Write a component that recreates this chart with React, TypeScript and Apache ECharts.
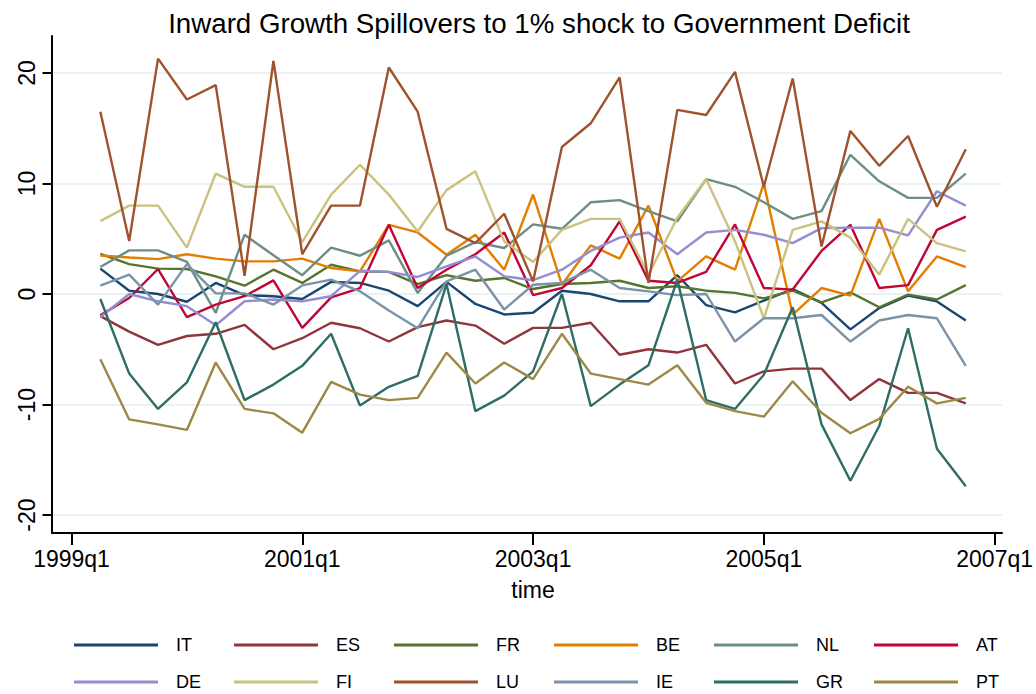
import React, { useEffect, useRef } from "react";
import * as echarts from "echarts";

const quarters = [
  "1999q2", "1999q3", "1999q4",
  "2000q1", "2000q2", "2000q3", "2000q4",
  "2001q1", "2001q2", "2001q3", "2001q4",
  "2002q1", "2002q2", "2002q3", "2002q4",
  "2003q1", "2003q2", "2003q3", "2003q4",
  "2004q1", "2004q2", "2004q3", "2004q4",
  "2005q1", "2005q2", "2005q3", "2005q4",
  "2006q1", "2006q2", "2006q3", "2006q4",
];

const countries = ["IT", "ES", "FR", "BE", "NL", "AT", "DE", "FI", "LU", "IE", "GR", "PT"];

const colors = [
  "#1a476f", "#90353b", "#55752f", "#e37e00", "#6e8e84", "#c10534",
  "#938dd2", "#cac27e", "#a0522d", "#7b92a8", "#2d6d66", "#9c8847",
];

const IT = [2.3, 0.3, 0, -0.7, 1.0, -0.1, -0.2, -0.45, 1.1, 1.0, 0.3, -1.1, 1.1, -0.9, -1.85, -1.7, 0.3, 0, -0.66, -0.66, 1.7, -1.0, -1.66, -0.6, 0.45, -0.8, -3.2, -1.27, -0.15, -0.67, -2.4];
const ES = [-2.0, -3.4, -4.6, -3.8, -3.6, -2.8, -5.0, -4.0, -2.6, -3.1, -4.3, -3.0, -2.4, -2.86, -4.5, -3.07, -3.07, -2.6, -5.5, -5.0, -5.3, -4.6, -8.1, -7.0, -6.75, -6.75, -9.6, -7.7, -8.95, -8.95, -9.9];
const FR = [3.64, 2.7, 2.3, 2.26, 1.6, 0.75, 2.2, 1.0, 2.65, 2.05, 2.0, 0.9, 1.7, 1.2, 1.45, 0.45, 0.9, 1.0, 1.2, 0.54, 0.7, 0.3, 0.1, -0.4, 0.3, -0.75, 0.15, -1.2, -0.06, -0.5, 0.8];
const BE = [3.49, 3.3, 3.16, 3.6, 3.2, 2.95, 2.95, 3.2, 2.35, 2.05, 6.26, 5.57, 3.55, 5.36, 2.2, 9.0, 0.84, 4.4, 3.2, 8.0, 1.14, 3.4, 2.2, 10.0, -1.87, 0.54, -0.15, 6.8, 0.24, 3.4, 2.44];
const NL = [2.44, 3.95, 3.95, 2.9, -1.7, 5.36, 3.5, 1.7, 4.2, 3.46, 4.85, 0.1, 3.46, 4.7, 4.16, 6.3, 5.9, 8.3, 8.5, 7.5, 6.57, 10.4, 9.7, 8.3, 6.8, 7.5, 12.6, 10.2, 8.7, 8.7, 10.9];
const AT = [-1.93, -0.36, 2.26, -2.1, -0.96, -0.2, 1.23, -3.07, -0.3, 0.54, 6.26, 0.54, 2.2, 3.6, 5.57, -0.1, 0.54, 2.6, 6.57, 1.2, 1.0, 2.0, 6.3, 0.54, 0.4, 3.9, 6.26, 0.54, 0.8, 5.8, 7.0];
const DE = [-2.1, 0, -0.66, -1.1, -2.83, -0.66, -0.5, -0.66, -0.2, 2.1, 2.0, 1.54, 2.5, 3.4, 1.6, 1.25, 2.2, 3.9, 5.1, 5.57, 3.6, 5.57, 5.8, 5.36, 4.6, 5.96, 6.0, 6.0, 5.3, 9.3, 8.0];
const FI = [6.6, 8.0, 8.0, 4.2, 10.9, 9.7, 9.7, 4.7, 9.0, 11.7, 9.0, 5.66, 9.4, 11.1, 4.76, 2.9, 5.8, 6.8, 6.8, 1.75, 6.9, 10.4, 4.76, -2.2, 5.8, 6.57, 5.1, 1.75, 6.8, 4.6, 3.86];
const LU = [16.5, 4.8, 21.3, 17.6, 18.9, 1.65, 21.1, 3.6, 8.0, 8.0, 20.5, 16.5, 5.9, 4.6, 7.26, 1.14, 13.3, 15.45, 19.6, 1.0, 16.66, 16.2, 20.1, 9.7, 19.5, 4.3, 14.76, 11.6, 14.3, 7.9, 13.1];
const IE = [0.75, 1.75, -0.96, 2.7, 0.06, 0.06, -0.96, 0.78, 1.3, 0.24, -1.5, -3.1, 1.14, 2.2, -1.4, 0.84, 1.0, 2.2, 0.54, 0.24, -0.1, 0, -4.3, -2.2, -2.2, -1.9, -4.3, -2.4, -1.9, -2.2, -6.5];
const GR = [-0.45, -7.2, -10.4, -8.0, -2.56, -9.6, -8.2, -6.5, -3.6, -10.1, -8.4, -7.4, 0.9, -10.6, -9.2, -7.0, 0, -10.15, -8.2, -6.45, 1.3, -9.6, -10.4, -7.3, -1.2, -11.8, -16.9, -11.95, -3.1, -14.0, -17.4];
const PT = [-5.9, -11.35, -11.8, -12.3, -6.2, -10.4, -10.8, -12.55, -7.95, -9.1, -9.6, -9.4, -5.3, -8.1, -6.2, -7.7, -3.6, -7.2, -7.7, -8.2, -6.45, -9.85, -10.6, -11.1, -7.9, -10.75, -12.6, -11.3, -8.4, -9.9, -9.4];

const seriesValues = [IT, ES, FR, BE, NL, AT, DE, FI, LU, IE, GR, PT];

const xTicks = [1999, 2001, 2003, 2005, 2007];
const yTicks = [-20, -10, 0, 10, 20];

const FONT = "'Liberation Sans', Arial, Helvetica, sans-serif";

function quarterToTime(q: string): number {
  const year = parseInt(q.slice(0, 4), 10);
  const qq = parseInt(q.slice(5), 10);
  return year + (qq - 1) / 4;
}

export default function App() {
  const ref = useRef<HTMLDivElement>(null);

  useEffect(() => {
    document.body.style.margin = "0";
    if (!ref.current) return;
    const chart = echarts.init(ref.current, undefined, { renderer: "svg" });
    const times = quarters.map(quarterToTime);

    const plotLeft = 71.5;
    const plotRight = 41;
    const plotTop = 73;
    const plotBottom = 179;
    const frameLeft = 52;
    const frameRight = 34;
    const frameTop = 36;
    const frameBottom = 161;

    const option: any = {
      animation: false,
      backgroundColor: "#ffffff",
      title: {
        text: "Inward Growth Spillovers to 1% shock to Government Deficit",
        left: 534,
        top: 4,
        textAlign: "center",
        textStyle: { fontFamily: FONT, fontSize: 27.7, fontWeight: "normal", color: "#000" },
      },
      grid: [
        { left: plotLeft, right: plotRight, top: plotTop, bottom: plotBottom },
        { left: frameLeft, right: frameRight, top: plotTop, bottom: plotBottom },
        { left: frameLeft, right: frameRight, top: frameTop, bottom: frameBottom },
      ],
      xAxis: [
        {
          gridIndex: 0,
          type: "value",
          min: xTicks[0],
          max: xTicks[xTicks.length - 1],
          interval: 2,
          offset: 18,
          axisLine: { show: false, onZero: false },
          axisTick: { show: true, length: 12, lineStyle: { color: "#000", width: 2 } },
          axisLabel: {
            show: true,
            margin: 14,
            formatter: (v: number) => `${v}q1`,
            fontFamily: FONT,
            fontSize: 23,
            color: "#000",
          },
          splitLine: { show: false },
          name: "time",
          nameLocation: "middle",
          nameGap: 45,
          nameTextStyle: { fontFamily: FONT, fontSize: 23, color: "#000" },
        },
        { gridIndex: 1, type: "value", min: 0, max: 1, show: false },
        {
          gridIndex: 2,
          type: "value",
          min: 0,
          max: 1,
          axisLine: { show: true, onZero: false, lineStyle: { color: "#000", width: 2 } },
          axisTick: { show: false },
          axisLabel: { show: false },
          splitLine: { show: false },
        },
      ],
      yAxis: [
        {
          gridIndex: 0,
          type: "value",
          min: yTicks[0],
          max: yTicks[yTicks.length - 1],
          interval: 10,
          offset: 19,
          axisLine: { show: false, onZero: false },
          axisTick: { show: true, length: 10, lineStyle: { color: "#000", width: 2 } },
          axisLabel: {
            show: true,
            rotate: 90,
            margin: 14,
            fontFamily: FONT,
            fontSize: 23,
            color: "#000",
          },
          splitLine: { show: false },
        },
        {
          gridIndex: 1,
          type: "value",
          min: yTicks[0],
          max: yTicks[yTicks.length - 1],
          interval: 10,
          axisLine: { show: false, onZero: false },
          axisTick: { show: false },
          axisLabel: { show: false },
          splitLine: { show: true, lineStyle: { color: "#eaf2f3", width: 2 } },
        },
        {
          gridIndex: 2,
          type: "value",
          min: 0,
          max: 1,
          axisLine: { show: true, onZero: false, lineStyle: { color: "#000", width: 2 } },
          axisTick: { show: false },
          axisLabel: { show: false },
          splitLine: { show: false },
        },
      ],
      legend: countries.map((c, k) => ({
        data: [c],
        left: 74 + 160 * (k % 6),
        top: k < 6 ? 636 : 673,
        icon: "rect",
        itemWidth: 84,
        itemHeight: 3,
        selectedMode: false,
        padding: 0,
        textStyle: { fontFamily: FONT, fontSize: 18, color: "#000", padding: [0, 0, 0, 13] },
      })),
      series: countries.map((c, k) => ({
        name: c,
        type: "line",
        xAxisIndex: 0,
        yAxisIndex: 0,
        clip: false,
        symbol: "none",
        color: colors[k],
        lineStyle: { color: colors[k], width: 2.4 },
        data: times.map((t, i) => [t, seriesValues[k][i]]),
      })),
    };

    chart.setOption(option);
    return () => chart.dispose();
  }, []);

  return (
    <div
      ref={ref}
      style={{ width: 1036, height: 694, position: "absolute", left: 0, top: 0 }}
    />
  );
}
